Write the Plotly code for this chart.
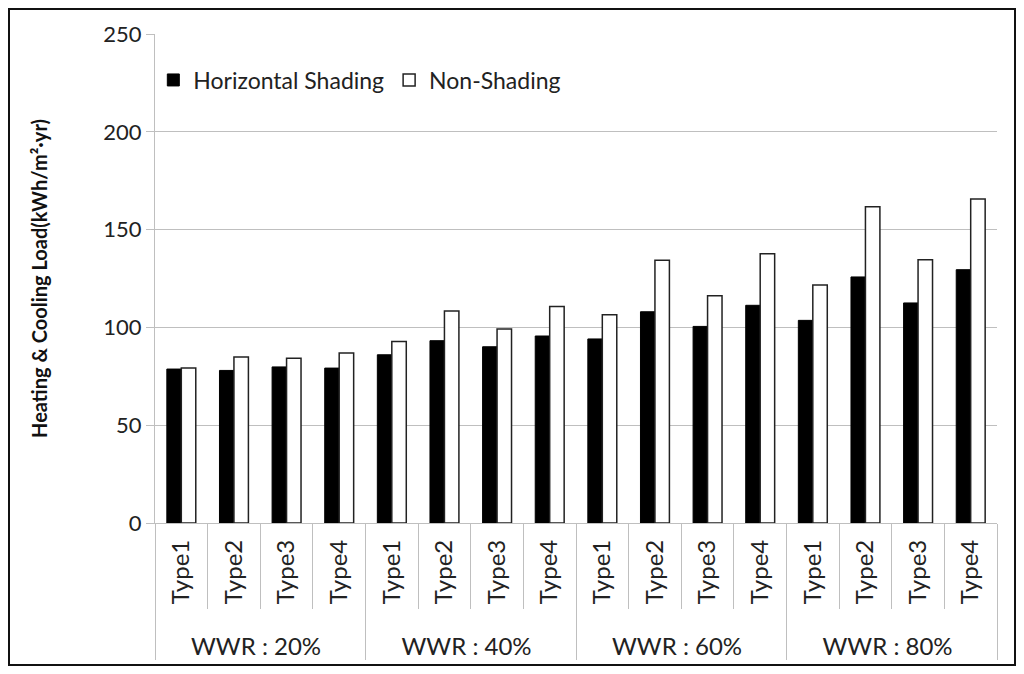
import plotly.graph_objects as go

groups = ["WWR : 20%", "WWR : 40%", "WWR : 60%", "WWR : 80%"]
types = ["Type1", "Type2", "Type3", "Type4"]
horizontal = [78.7, 78.0, 79.8, 79.2,
              86.0, 93.2, 90.1, 95.6,
              94.1, 108.0, 100.5, 111.3,
              103.6, 125.8, 112.5, 129.5]
non_shading = [79.2, 84.9, 84.2, 86.9,
               92.8, 108.4, 99.2, 110.7,
               106.5, 134.3, 116.2, 137.7,
               121.7, 161.7, 134.6, 165.6]
y_ticks = [0, 50, 100, 150, 200, 250]

# non-breaking spaces nudge the rotated labels and the group row into place
x_group = [g for g in groups for _ in types]
x_type = ["\u00a0" + t + "\u00a0" for _ in groups for t in types]

FONT = "Lato"
fig = go.Figure()
fig.add_trace(go.Bar(x=[x_group, x_type], y=horizontal, name="Horizontal Shading",
                     marker=dict(color="black", line=dict(color="black", width=1))))
fig.add_trace(go.Bar(x=[x_group, x_type], y=non_shading, name="Non-Shading",
                     marker=dict(color="white", line=dict(color="#222222", width=1.5))))

# page body has an 8px offset; figure is sized to fill the rest of the window
OFF = 8
W, H = 1024 - OFF, 674 - OFF
L, T = 155 - OFF, 34 - OFF
pw, ph = 842, 489
R, B = W - L - pw, H - T - ph

fig.update_layout(
    width=W, height=H,
    margin=dict(l=L, r=R, t=T, b=B, pad=0),
    paper_bgcolor="white", plot_bgcolor="white",
    barmode="group", bargap=0.45, bargroupgap=0,
    font=dict(family=FONT, color="#222222"),
    legend=dict(orientation="h", x=-0.002, xanchor="left",
                y=(489 - (80 - 34)) / ph, yanchor="middle",
                font=dict(size=23, color="#222222"), bgcolor="rgba(0,0,0,0)",
                itemwidth=30, traceorder="normal"),
    showlegend=True,
)

fig.update_yaxes(range=[0, 250], tickvals=y_ticks, showgrid=True, gridcolor="#bfbfbf",
                 gridwidth=1, showline=True, linecolor="#bfbfbf", linewidth=1,
                 ticks="outside", ticklen=8, tickcolor="#bfbfbf",
                 tickfont=dict(size=22, family=FONT, color="#222222"), zeroline=False,
                 title=dict(text="<b>Heating & Cooling Load(kWh/m²·yr)</b>",
                            font=dict(size=20, family=FONT, color="#111111"), standoff=50))
fig.update_xaxes(type="multicategory", showline=True, linecolor="#bfbfbf", linewidth=1,
                 ticks="outside", tickson="boundaries", ticklen=85, tickcolor="#bfbfbf",
                 tickangle=-90, tickfont=dict(size=24, family=FONT, color="#222222"),
                 showdividers=True, dividercolor="#bfbfbf", dividerwidth=1)

# outer frame
fig.add_shape(type="rect", xref="paper", yref="paper",
              x0=(1 - L) / pw, x1=(1007 - L) / pw,
              y0=(ph + T - 657) / ph, y1=(ph + T - 1) / ph,
              line=dict(color="#111111", width=2), fillcolor="rgba(0,0,0,0)", layer="above")

fig.write_html("out.html")
